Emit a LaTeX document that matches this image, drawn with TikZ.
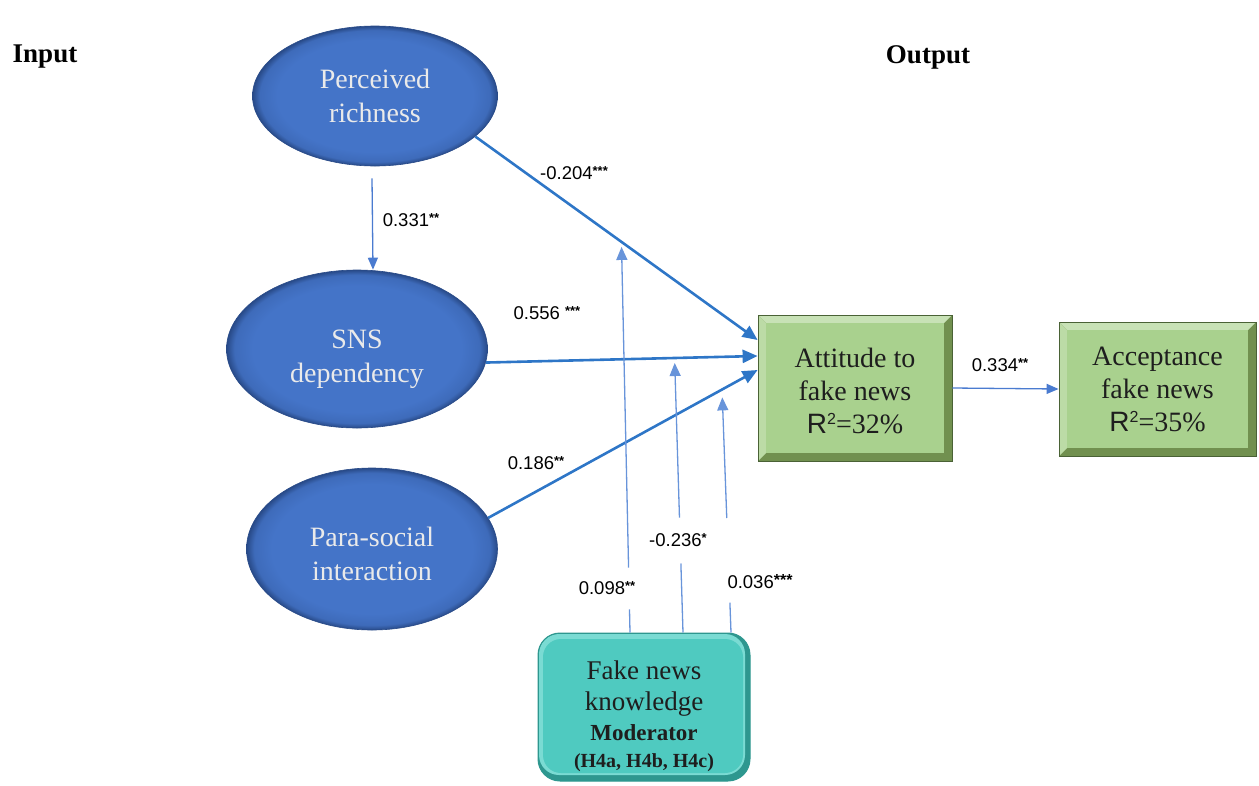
\documentclass[tikz,border=0pt]{standalone}
\usepackage{fontspec}
\setmainfont{Liberation Serif}
\setsansfont{Liberation Sans}
\usetikzlibrary{arrows.meta,calc,shapes.geometric}

\definecolor{ovFill}{HTML}{4474C8}
\definecolor{ovEdge}{HTML}{284A88}
\definecolor{ovText}{HTML}{EAEAEA}
\definecolor{gFill}{HTML}{A9D18E}
\definecolor{gLight}{HTML}{C8E2B6}
\definecolor{gDark}{HTML}{71904F}
\definecolor{gEdge}{HTML}{4A6236}
\definecolor{tFill}{HTML}{4FCAC0}
\definecolor{tLight}{HTML}{7ADBD3}
\definecolor{tDark}{HTML}{2E978F}
\definecolor{pathBlue}{HTML}{2E76C7}
\definecolor{thinBlue}{HTML}{4A7BD0}
\definecolor{modBlue}{HTML}{6894DA}
\definecolor{inkDark}{HTML}{1E1E1E}

% bevelled oval: flat centre, darker rim
\pgfdeclareradialshading{ovalbevel}{\pgfpoint{0bp}{0bp}}{%
  color(0bp)=(ovFill); color(20bp)=(ovFill); color(23.5bp)=(ovFill!78!ovEdge);
  color(25bp)=(ovEdge); color(50bp)=(ovEdge)}

% significance stars
\newcommand{\sig}[1]{\raisebox{0.45ex}{\bfseries\fontsize{13}{13}\selectfont #1}}
\newcommand{\sigbig}[1]{\raisebox{0.3ex}{\bfseries\fontsize{16}{16}\selectfont #1}}
% explained variance, R squared
\newcommand{\rsq}{\textsf{R\raisebox{9pt}{\fontsize{16}{16}\selectfont 2}}}
% extra room above a first line, pushing a node's text down
\newcommand{\lift}[1]{\rule{0pt}{#1}}

\tikzset{
  oval/.style={ellipse, shading=ovalbevel, draw=ovEdge, line width=0.6pt,
    inner sep=0pt, align=center, text=ovText, font=\fontsize{28}{34}\selectfont},
  gbox/.style={rectangle, draw=gEdge, line width=0.8pt, fill=gDark, inner sep=0pt,
    align=center, text=inkDark, font=\fontsize{28}{33}\selectfont,
    path picture={
      \fill[gLight] (path picture bounding box.north west)
        -- (path picture bounding box.north east) -- ++(-8,8)
        -- ($(path picture bounding box.north west)+(8,8)$) -- cycle;
      \fill[gLight!60!gFill] (path picture bounding box.north west)
        -- ($(path picture bounding box.north west)+(8,8)$)
        -- ($(path picture bounding box.south west)+(8,-8)$)
        -- (path picture bounding box.south west) -- cycle;
      \fill[gFill] ($(path picture bounding box.north west)+(8,8)$)
        rectangle ($(path picture bounding box.south east)+(-8,-8)$);}},
  mbox/.style={rectangle, rounded corners=22pt, draw=tDark, line width=1pt,
    fill=tDark, inner sep=0pt, align=center, text=inkDark,
    font=\fontsize{27}{31}\selectfont,
    path picture={
      \fill[tLight, rounded corners=20pt]
        ($(path picture bounding box.north west)+(1,1)$)
        rectangle ($(path picture bounding box.south east)+(-5,-6)$);
      \fill[tFill, rounded corners=18pt]
        ($(path picture bounding box.north west)+(5,6)$)
        rectangle ($(path picture bounding box.south east)+(-7,-8)$);}},
  heading/.style={font=\bfseries\fontsize{27}{30}\selectfont, text=black},
  coef/.style={font=\sffamily\fontsize{18.5}{20}\selectfont, text=black, inner sep=1pt},
  mainpath/.style={draw=pathBlue, line width=2.6pt,
    -{Triangle[length=15pt,width=13pt]}},
  thinpath/.style={draw=thinBlue, line width=1.3pt,
    -{Triangle[length=12pt,width=10pt]}},
  modline/.style={draw=modBlue, line width=1.3pt},
  modpath/.style={modline, -{Triangle[length=13pt,width=11pt]}}
}

\begin{document}
\begin{tikzpicture}[x=1pt,y=-1pt]
\useasboundingbox (0,0) rectangle (1259,785);

% headings
\node[heading] (in)  at (45,57)  {Input};
\node[heading] (out) at (928,57) {Output};

% constructs
\node[oval, minimum width=245pt, minimum height=140pt] (pr)  at (375,96)  {Perceived\\richness};
\node[oval, minimum width=261pt, minimum height=158pt] (sns) at (357,349) {\lift{40pt}SNS\\dependency};
\node[oval, minimum width=251pt, minimum height=162pt] (psi) at (372,549) {\lift{30pt}Para-social\\interaction};

\node[gbox, minimum width=194pt, minimum height=146pt] (att) at (855,388)
  {\lift{26pt}Attitude to\\fake news\\\rsq=32\%};
\node[gbox, minimum width=197pt, minimum height=134pt] (acc) at (1157.5,389)
  {Acceptance\\fake news\\\rsq=35\%};

\node[mbox, minimum width=212pt, minimum height=148pt] (mod) at (644,707)
  {\lift{38pt}Fake news\\knowledge\\[-1pt]
   {\bfseries\fontsize{23}{26}\selectfont Moderator}\\[-4pt]
   {\bfseries\fontsize{20}{24}\selectfont (H4a, H4b, H4c)}};

% direct paths into attitude
\draw[mainpath] (pr.-22)  -- coordinate[pos=0.518] (hA) ($(att.west)+(0,-48)$);
\draw[mainpath] (sns.-6)  -- coordinate[pos=0.695] (hB) ($(att.west)+(0,-32)$);
\draw[mainpath] (psi.15)  -- coordinate[pos=0.869] (hC) ($(att.west)+(0,-18)$);

% perceived richness -> SNS dependency
\draw[thinpath] ($(pr.south)+(-3,12)$) -- ($(sns.north)+(16,0)$);

% attitude -> acceptance
\draw[thinpath] (att.east) -- (acc.west);

% moderating effects (each line broken around its coefficient)
\coordinate (b1) at ($(mod.north)+(-14,0)$);
\coordinate (b2) at ($(mod.north)+(39,0)$);
\coordinate (b3) at ($(mod.north)+(87,0)$);
\coordinate (t1) at ($(hA)+(0,5)$);
\coordinate (t2) at ($(hB)+(0,5)$);
\coordinate (t3) at ($(hC)+(0,8)$);

\draw[modline] (b1) -- ($(b1)!0.06!(t1)$);
\draw[modpath] ($(b1)!0.168!(t1)$) -- (t1);
\draw[modline] (b2) -- ($(b2)!0.256!(t2)$);
\draw[modpath] ($(b2)!0.426!(t2)$) -- (t2);
\draw[modline] (b3) -- ($(b3)!0.127!(t3)$);
\draw[modpath] ($(b3)!0.487!(t3)$) -- (t3);

% coefficients
\node[coef] (c1) at (574,173)  {-0.204\sig{***}};
\node[coef] (c2) at (411,220)  {0.331\sig{**}};
\node[coef] (c3) at (547,313)  {0.556 \sig{***}};
\node[coef] (c4) at (536,463)  {0.186\sig{**}};
\node[coef] (c5) at (1000,365) {0.334\sig{**}};
\node[coef] (c6) at (678,540)  {-0.236\sig{*}};
\node[coef] (c7) at (607,588)  {0.098\sig{**}};
\node[coef] (c8) at (760,582)  {0.036\sigbig{***}};
\end{tikzpicture}
\end{document}
